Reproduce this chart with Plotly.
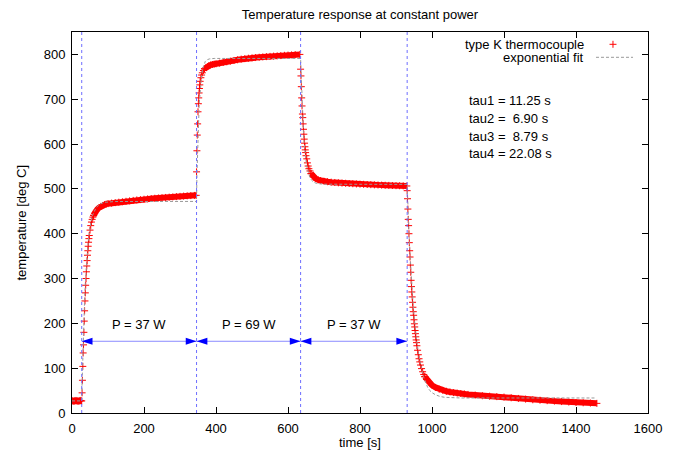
import plotly.graph_objects as go

# Temperature of a type K thermocouple under stepped heater power
# Values (time in s, temperature in deg C)

# before power on
base_t = [1, 3, 5, 7, 9, 11, 13, 15, 17, 19, 21, 23, 25, 27]
base_T = [27, 27, 26, 27, 27, 28, 27, 27, 26, 27, 27, 28, 27, 27]

# step 1 (37 W)
rise1_t = [28, 29, 30, 31, 32, 33, 34, 35, 36, 37, 38, 39, 40, 41, 42, 43, 44,
           45, 46, 47, 48, 50, 52, 54, 56, 58, 60]
rise1_T = [45, 73, 104, 134, 152, 180, 205, 228, 250, 268, 285, 300, 315, 328,
           340, 352, 362, 372, 381, 389, 396, 408, 418, 426, 432, 437, 441]
hold1_t = [60, 63, 66, 70, 75, 80, 85, 90, 95, 100, 110, 120, 130, 140, 150, 160,
           170, 180, 190, 200, 210, 220, 230, 240, 250, 260, 270, 280, 290, 300,
           310, 320, 330, 340, 345]
hold1_T = [441, 446, 450, 454, 458, 461, 463, 465, 466, 467, 468.2, 469.3, 470.3,
           471.3, 472.3, 473.3, 474.3, 475.3, 476.1, 476.9, 477.7, 478.5, 479.1,
           479.7, 480.3, 480.9, 481.5, 482.1, 482.7, 483.3, 483.9, 484.5, 485.0,
           485.4, 485.6]

# step 2 (69 W)
rise2_t = [346, 347, 348, 349, 350, 351, 352, 353, 354, 355, 356, 358, 360, 362,
           365, 368]
rise2_T = [538, 585, 620, 645, 672, 690, 703, 714, 724, 732, 740, 748, 754, 759,
           764, 768]
hold2_t = [368, 372, 376, 380, 385, 390, 395, 400, 410, 420, 430, 440, 450, 460,
           470, 480, 490, 500, 510, 520, 530, 540, 550, 560, 570, 580, 590, 600,
           610, 620, 633]
hold2_T = [768, 771, 773, 775, 776.5, 777.5, 778.5, 779, 780.5, 782, 783.5, 785,
           786.5, 788, 789.5, 790.5, 791.5, 792.3, 793, 793.7, 794.4, 795, 795.6,
           796.2, 796.8, 797.4, 798, 798.5, 799, 799.5, 800]

# step 3 (back to 37 W)
fall3_t = [635, 636, 637, 638, 639, 640, 641, 642, 643, 644, 645, 646, 647, 648,
           649, 650, 652, 654, 656, 658, 661, 664]
fall3_T = [767, 752, 728, 703, 685, 667, 659, 645, 633, 622, 611, 602, 594, 587,
           581, 574, 567, 558, 551, 545, 540, 534]
hold3_t = [664, 668, 672, 677, 684, 690, 700, 710, 720, 730, 740, 750, 760, 770,
           780, 790, 800, 810, 820, 830, 840, 850, 860, 870, 880, 890, 900, 910,
           920, 930]
hold3_T = [534, 529, 526, 523, 520, 518.5, 517, 516, 515, 514.3, 513.6, 513,
           512.5, 512, 511.5, 511, 510.6, 510.2, 509.8, 509.4, 509, 508.7, 508.4,
           508.1, 507.8, 507.5, 507.2, 507, 506.8, 506.5]

# power off, cooling
fall4_t = [931, 932, 933, 934, 935, 936, 937, 938, 939, 940, 941, 942, 943, 944,
           945, 946, 947, 948, 949, 950, 951, 952, 953, 954, 955, 956, 957, 958,
           960, 962, 964, 966, 968, 971, 974, 977, 980]
fall4_T = [496, 478, 455, 432, 418, 400, 380, 362, 348, 330, 314, 296, 282, 270,
           259, 247, 236, 226, 218, 208, 199, 192, 184, 177, 170, 163, 157, 150,
           140, 130, 121, 114, 107, 99, 92, 86, 81]
tail4_t = [980, 985, 990, 995, 1000, 1010, 1020, 1030, 1040, 1050, 1060, 1070,
           1080, 1090, 1100, 1120, 1140, 1160, 1180, 1200, 1220, 1240, 1260, 1280,
           1300, 1320, 1340, 1360, 1380, 1400, 1420, 1440, 1458]
tail4_T = [81, 75, 70, 66, 62, 57, 53, 50.5, 48.5, 47, 45.5, 44.5, 43.5, 42.5,
           41.5, 40, 38.5, 37.5, 36.5, 35.5, 34, 32.5, 31, 29.5, 28.5, 27.5, 26.5,
           25.5, 24.5, 23.5, 22.8, 22.2, 21.5]

# piecewise exponential fit
fit_t = [0, 27, 28, 29, 30, 31, 32, 33, 35, 37, 39, 41, 43, 45, 47, 50, 53, 57,
         62, 67, 77, 90, 120, 346,
         347, 348, 349, 350, 351, 352, 353, 354, 356, 358, 360, 363, 366, 370,
         375, 382, 395, 635,
         636, 637, 638, 639, 640, 641, 643, 645, 647, 650, 653, 657, 661, 666,
         671, 680, 700, 931,
         932, 934, 936, 938, 940, 942, 944, 946, 948, 950, 953, 956, 959, 962,
         966, 971, 976, 982, 988, 994, 1000, 1010, 1022, 1035, 1050, 1080, 1455]
fit_T = [27, 27, 65, 99, 131, 160, 186, 211, 253, 289, 319, 344, 364, 382, 396,
         414, 428, 441, 451, 458, 466, 470, 471.8, 472,
         530, 567, 598, 624, 646, 665, 682, 696, 720, 738, 752, 767, 777, 784,
         788, 790, 791, 791,
         769, 741, 716, 694, 674, 656, 627, 603, 584, 563, 547, 534, 525, 519,
         515, 512, 510.5, 510,
         480, 440, 402, 367, 336, 308, 282, 259, 237, 217, 192, 170, 151, 135,
         117, 98, 82, 68, 57, 50, 45.5, 40.5, 37, 35, 34, 33.5, 33.5]

switch_t = [27, 346, 635, 931]
power_W = [37, 69, 37]
tau_s = ['11.25', ' 6.90', ' 8.79', '22.08']

arrow_y = 160
label_y = 197

FONT = 'Liberation Sans, Arial, sans-serif'
FS = 13
RED = '#ff0000'
VLINE = 'rgb(110,110,255)'

fig = go.Figure()

marker = dict(symbol='cross-thin', size=5, color=RED, line=dict(width=1, color=RED))

# plateaus: dense samples, drawn as a solid band
for t, T in [(base_t, base_T), (hold1_t, hold1_T), (hold2_t, hold2_T),
             (hold3_t, hold3_T), (tail4_t, tail4_T)]:
    fig.add_trace(go.Scatter(x=t, y=T, mode='lines+markers',
                             line=dict(color=RED, width=6), marker=marker,
                             showlegend=False, hoverinfo='skip'))

# transients: individual samples
for t, T in [(rise1_t, rise1_T), (rise2_t, rise2_T), (fall3_t, fall3_T),
             (fall4_t, fall4_T)]:
    fig.add_trace(go.Scatter(x=t, y=T, mode='markers', marker=marker,
                             showlegend=False, hoverinfo='skip'))

fig.add_trace(go.Scatter(x=fit_t, y=fit_T, mode='lines',
                         line=dict(color='#999999', width=1, dash='3px,2px'),
                         showlegend=False, hoverinfo='skip'))

shapes = []
for s in switch_t:
    shapes.append(dict(type='line', xref='x', yref='paper', x0=s, x1=s, y0=0, y1=1,
                       line=dict(color=VLINE, width=1, dash='3px,3px'), layer='above'))

head_len = 30   # s
head_half = 8   # deg C
annotations = []
for i, p in enumerate(power_W):
    a, b = switch_t[i], switch_t[i + 1]
    shapes.append(dict(type='line', xref='x', yref='y', x0=a, x1=b,
                       y0=arrow_y, y1=arrow_y,
                       line=dict(color='rgb(140,140,255)', width=1), layer='above'))
    shapes.append(dict(type='path', xref='x', yref='y',
                       path=f'M {a},{arrow_y} L {a + head_len},{arrow_y + head_half} '
                            f'L {a + head_len},{arrow_y - head_half} Z',
                       fillcolor='blue', line=dict(width=0), layer='above'))
    shapes.append(dict(type='path', xref='x', yref='y',
                       path=f'M {b},{arrow_y} L {b - head_len},{arrow_y + head_half} '
                            f'L {b - head_len},{arrow_y - head_half} Z',
                       fillcolor='blue', line=dict(width=0), layer='above'))
    annotations.append(dict(x=(a + b) / 2, y=label_y, xref='x', yref='y',
                            text=f'P = {p} W', showarrow=False,
                            font=dict(size=FS, color='black')))

# key, gnuplot style (text left, sample right)
annotations.append(dict(x=0.8924, y=0.9677, xref='paper', yref='paper',
                        xanchor='right', yanchor='middle', showarrow=False,
                        text='type K thermocouple', font=dict(size=FS, color='black')))
annotations.append(dict(x=0.8924, y=0.9336, xref='paper', yref='paper',
                        xanchor='right', yanchor='middle', showarrow=False,
                        text='exponential fit', font=dict(size=FS, color='black')))
shapes.append(dict(type='line', xref='paper', yref='paper', x0=0.9332, x1=0.9453,
                   y0=0.9677, y1=0.9677, line=dict(color=RED, width=1)))
shapes.append(dict(type='line', xref='paper', yref='paper', x0=0.9392, x1=0.9392,
                   y0=0.9585, y1=0.9769, line=dict(color=RED, width=1)))
shapes.append(dict(type='line', xref='paper', yref='paper', x0=0.9097, x1=0.9740,
                   y0=0.9336, y1=0.9336,
                   line=dict(color='#999999', width=1, dash='3px,2px')))

tau_y = [0.819, 0.7729, 0.7265, 0.681]
for i, (tau, y) in enumerate(zip(tau_s, tau_y)):
    annotations.append(dict(x=0.6858, y=y, xref='paper', yref='paper',
                            xanchor='left', yanchor='middle', showarrow=False,
                            text=f'tau{i + 1} = {tau.replace(" ", chr(160))} s',
                            font=dict(size=FS, color='black')))

# axis titles
annotations.append(dict(x=0.5, y=-0.0787, xref='paper', yref='paper',
                        xanchor='center', yanchor='middle', showarrow=False,
                        text='time [s]', font=dict(size=FS, color='black')))
annotations.append(dict(x=-0.0885, y=0.5, xref='paper', yref='paper',
                        xanchor='center', yanchor='middle', showarrow=False,
                        textangle=-90, text='temperature [deg C]',
                        font=dict(size=FS, color='black')))

axis_common = dict(showgrid=False, zeroline=False, showline=True, linecolor='black',
                   linewidth=1, mirror='ticks', ticks='inside', ticklen=6,
                   tickcolor='black', tickfont=dict(size=FS, color='black'))

# the page body adds an 8px offset, so the figure is 8px smaller on each start side
fig.update_layout(
    width=665, height=447,
    margin=dict(l=64, r=25, t=24, b=42),
    paper_bgcolor='white', plot_bgcolor='white',
    font=dict(family=FONT, size=FS, color='black'),
    title=dict(text='Temperature response at constant power', x=352 / 665,
               xanchor='center', y=1 - 6 / 447, yanchor='middle',
               font=dict(size=FS, color='black')),
    xaxis=dict(range=[0, 1600], tickvals=[0, 200, 400, 600, 800, 1000, 1200, 1400, 1600],
               ticklabelstandoff=3, **axis_common),
    yaxis=dict(range=[0, 850], tickvals=[0, 100, 200, 300, 400, 500, 600, 700, 800],
               ticklabelstandoff=3, **axis_common),
    shapes=shapes,
    annotations=annotations,
    showlegend=False,
)

fig.write_html('out.html')
